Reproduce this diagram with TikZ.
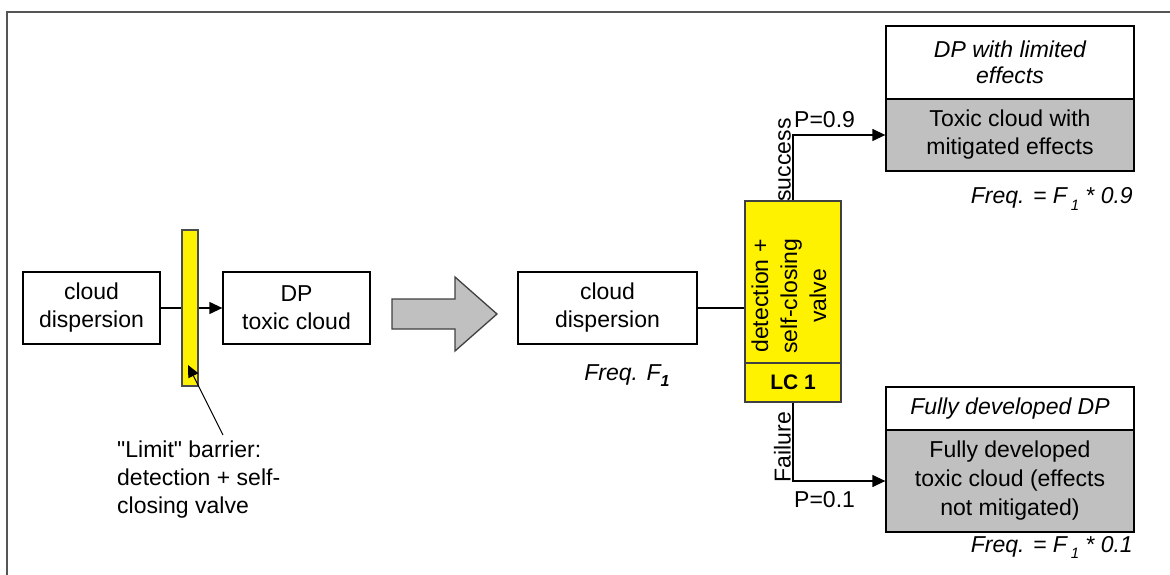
\documentclass[tikz,border=0pt]{standalone}
\usepackage{fontspec}
\setmainfont{Liberation Sans}[Ligatures=TeXOff]
\usetikzlibrary{arrows.meta}
\definecolor{resgray}{HTML}{C0C0C0}
\definecolor{frame}{HTML}{555555}
\begin{document}
\begin{tikzpicture}[x=1pt,y=-1pt,
  every node/.style={font=\fontsize{23}{28}\selectfont},
  box/.style={draw=black, line width=1.3pt, align=center, inner sep=0pt},
  ybox/.style={draw=black!75, fill=yellow, line width=1.3pt, align=center, inner sep=0pt},
  conn/.style={line width=1.3pt},
  arr/.style={line width=1.3pt, -{Triangle[length=13pt,width=12pt]}},
  lbl/.style={inner sep=1pt},
  freq/.style={inner sep=0pt, font=\fontsize{23}{28}\selectfont\itshape}
]
\useasboundingbox (0,0) rectangle (1170,575);
\draw[frame, line width=2.5pt] (7,575) -- (7,12) -- (1170,12);

% left part
\node[box, minimum width=137pt, minimum height=72pt] (cd1) at (91.5,308) {cloud\\dispersion};
\node[ybox, draw=black!70, minimum width=16pt, minimum height=156pt] (bar) at (190,308) {};
\node[box, minimum width=147pt, minimum height=72pt] (dp) at (296.5,308) {DP\\toxic cloud};
\draw[conn] (cd1.east) -- (bar.west);
\draw[arr] (bar.east) -- (dp.west);

\node[inner sep=0pt, anchor=north west, align=left] (lim) at (117,441) {"Limit" barrier:\\detection + self-\\closing valve};
\coordinate (annstart) at (223,435);
\coordinate (anntip) at (188,365);
\draw[line width=1pt, -{Triangle[length=12pt,width=11pt]}] (annstart) -- (anntip);

% big arrow
\draw[fill=resgray, draw=black!75, line width=1.3pt]
  (392,299) -- (455,299) -- (455,277) -- (497,314) -- (455,351) -- (455,329) -- (392,329) -- cycle;

% right part
\node[box, minimum width=179pt, minimum height=72pt] (cd2) at (607.5,308) {cloud\\dispersion};
\node[freq, anchor=base] (f1) at (627,380) {Freq. F\raisebox{-6pt}{\fontsize{16}{16}\selectfont\bfseries\itshape 1}};

\node[ybox, minimum width=96pt, minimum height=162pt] (lcup) at (793,282) {};
\node[ybox, minimum width=96pt, minimum height=39pt, font=\fontsize{21}{26}\selectfont\bfseries] (lclow) at (793,382.5) {LC 1};
\node[rotate=90, align=center, inner sep=0pt, font=\fontsize{23}{29}\selectfont] (lctext) at (789,296) {detection +\\self-closing\\valve};

\draw[conn] (cd2.east) -- (cd2.east -| lcup.west);

% results
\node[box, minimum width=248pt, minimum height=73pt, font=\fontsize{23}{26}\selectfont\itshape] (r1t) at (1010,62.5) {DP with limited\\effects};
\node[box, fill=resgray, minimum width=248pt, minimum height=72pt, font=\fontsize{23}{28}\selectfont] (r1) at (1010,135) {Toxic cloud with\\mitigated effects};
\node[box, minimum width=248pt, minimum height=43pt, font=\fontsize{23}{28}\selectfont\itshape] (r2t) at (1010,408.5) {Fully developed DP};
\node[box, fill=resgray, minimum width=248pt, minimum height=102pt, font=\fontsize{23}{29}\selectfont] (r2) at (1010,481) {Fully developed\\toxic cloud (effects\\not mitigated)};

\draw[arr] (lcup.north) |- (r1.west);
\draw[arr] (lclow.south) |- (r2.west);

\node[lbl, rotate=90, anchor=south] (succ) at (792,160) {success};
\node[lbl, rotate=90, anchor=south] (fail) at (792,447) {Failure};
\node[inner sep=0pt, anchor=base west] (p9) at (794,128) {P=0.9};
\node[inner sep=0pt, anchor=base west] (p1) at (794,507) {P=0.1};

\node[freq, anchor=base east] (f9) at (1133,204) {Freq. = F\,\raisebox{-6pt}{\fontsize{15}{15}\selectfont\itshape 1} * 0.9};
\node[freq, anchor=base east] (f01) at (1133,552) {Freq. = F\,\raisebox{-6pt}{\fontsize{15}{15}\selectfont\itshape 1} * 0.1};
\end{tikzpicture}
\end{document}
